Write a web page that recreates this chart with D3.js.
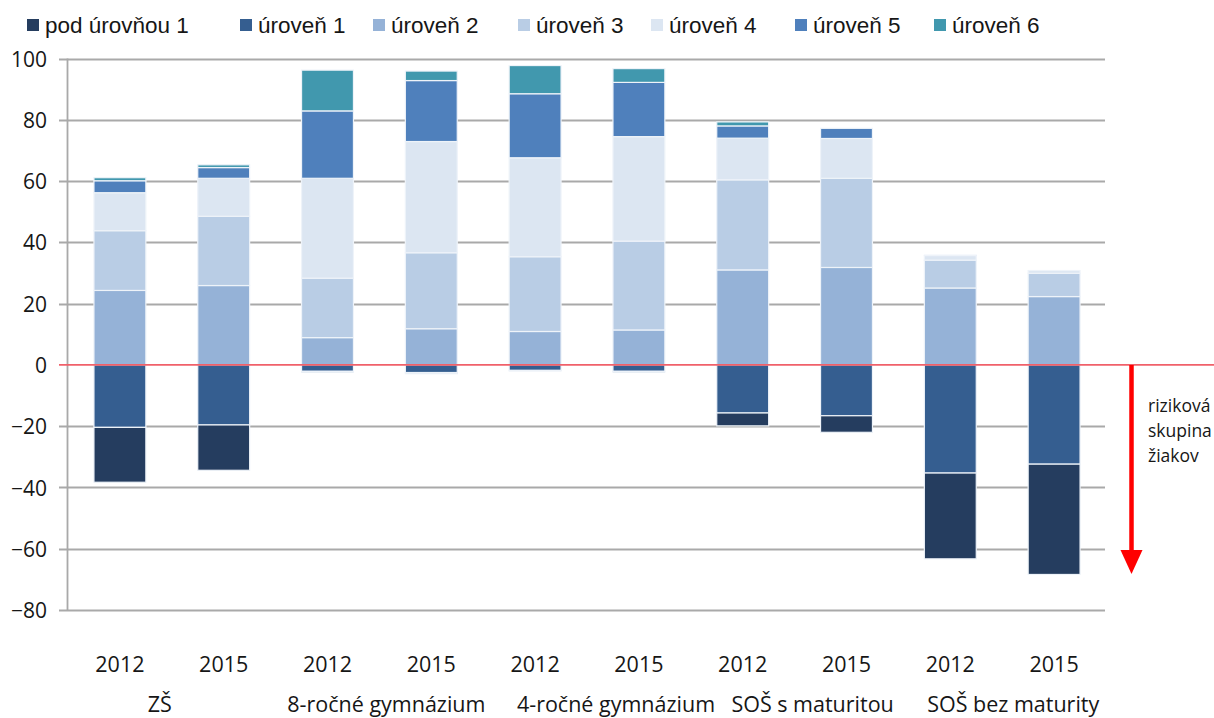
<!DOCTYPE html>
<html>
<head>
<meta charset="utf-8">
<script src="https://cdn.jsdelivr.net/npm/d3@7"></script>
<style>
  html, body { margin: 0; padding: 0; background: #ffffff; }
  svg { display: block; }
</style>
</head>
<body>
<svg id="chart" width="1214" height="718"></svg>
<script>
// Schools and test years
const categories = ["ZŠ", "8-ročné gymnázium", "4-ročné gymnázium", "SOŠ s maturitou", "SOŠ bez maturity"];
const years = ["2012", "2015"];

// Proficiency levels (legend order)
const levels = ["pod úrovňou 1", "úroveň 1", "úroveň 2", "úroveň 3", "úroveň 4", "úroveň 5", "úroveň 6"];

// Share of pupils (%) for each bar: ZŠ 2012, ZŠ 2015, 8r 2012, 8r 2015, 4r 2012, 4r 2015,
// SOŠ s 2012, SOŠ s 2015, SOŠ bez 2012, SOŠ bez 2015
const podUrovnou1 = [17.9, 14.8, 0.3, 0.4, 0.2, 0.3, 4.2, 5.4, 28.0, 36.0];
const uroven1     = [20.4, 19.6, 2.1, 2.5, 1.8, 2.1, 15.7, 16.6, 35.3, 32.4];
const uroven2     = [24.3, 25.9, 8.9, 11.8, 10.9, 11.4, 31.0, 31.8, 25.1, 22.3];
const uroven3     = [19.5, 22.6, 19.4, 24.8, 24.4, 29.0, 29.4, 29.1, 9.1, 7.6];
const uroven4     = [12.4, 12.4, 32.6, 36.3, 32.3, 34.1, 13.6, 13.0, 1.5, 0.9];
const uroven5     = [3.9, 3.5, 22.0, 19.9, 20.9, 17.7, 4.0, 3.3, 0.1, 0.0];
const uroven6     = [1.0, 0.9, 13.3, 3.1, 9.2, 4.5, 1.3, 0.0, 0.0, 0.0];

const yTicks = [-80, -60, -40, -20, 0, 20, 40, 60, 80, 100];
const riskLabel = ["riziková", "skupina", "žiakov"];

// ---- layout ----
const colors = {
  "pod úrovňou 1": "#253d5f",
  "úroveň 1": "#355e90",
  "úroveň 2": "#95b2d7",
  "úroveň 3": "#b9cde5",
  "úroveň 4": "#dce6f2",
  "úroveň 5": "#4f80bc",
  "úroveň 6": "#4198ae"
};
const seriesValues = {
  "pod úrovňou 1": podUrovnou1,
  "úroveň 1": uroven1,
  "úroveň 2": uroven2,
  "úroveň 3": uroven3,
  "úroveň 4": uroven4,
  "úroveň 5": uroven5,
  "úroveň 6": uroven6
};
const positiveOrder = ["úroveň 2", "úroveň 3", "úroveň 4", "úroveň 5", "úroveň 6"];
const negativeOrder = ["úroveň 1", "pod úrovňou 1"];

const numFont = "'Open Sans', 'DejaVu Sans', sans-serif";
const legendFont = "'Liberation Sans', Arial, sans-serif";
const textColor = "#161616";

const svg = d3.select("#chart");

const bars = [];
categories.forEach((c, ci) => years.forEach((y, yi) => bars.push({ key: c + "|" + y, cat: c, year: y, i: ci * years.length + yi })));

const x = d3.scaleBand()
  .domain(bars.map(b => b.key))
  .range([68, 1106])
  .paddingInner(0.5)
  .paddingOuter(0.25);

const y = d3.scaleLinear().domain([-80, 100]).range([610, 58.5]);

const axisX = 67.5;
const gridLeft = 59;
const gridRight = 1105;

// gridlines
svg.append("g")
  .selectAll("line")
  .data(yTicks.filter(t => t !== 0))
  .join("line")
  .attr("x1", gridLeft).attr("x2", gridRight)
  .attr("y1", d => Math.round(y(d)) + 0.5).attr("y2", d => Math.round(y(d)) + 0.5)
  .attr("stroke", "#a9a9a9").attr("stroke-width", 1.8);

// vertical axis line
svg.append("line")
  .attr("x1", axisX).attr("x2", axisX)
  .attr("y1", y(100)).attr("y2", y(-80))
  .attr("stroke", "#a9a9a9").attr("stroke-width", 1.8);

// tick labels
const yAxis = d3.axisLeft(y).tickValues(yTicks).tickSize(0).tickPadding(0).tickFormat(d3.format("d"));
const yAxisG = svg.append("g").attr("transform", "translate(47,0)").call(yAxis);
yAxisG.select(".domain").remove();
yAxisG.selectAll("text")
  .attr("font-family", numFont)
  .attr("font-size", 21)
  .attr("fill", textColor)
  .attr("dy", "0.36em");

// stacked segments
const segments = [];
bars.forEach(b => {
  let top = 0;
  positiveOrder.forEach(lv => {
    const v = seriesValues[lv][b.i];
    if (v > 0) segments.push({ bar: b, level: lv, y0: top, y1: top + v });
    top += v;
  });
  let bottom = 0;
  negativeOrder.forEach(lv => {
    const v = seriesValues[lv][b.i];
    if (v > 0) segments.push({ bar: b, level: lv, y0: bottom - v, y1: bottom });
    bottom -= v;
  });
});

svg.append("g")
  .selectAll("rect")
  .data(segments)
  .join("rect")
  .attr("x", d => x(d.bar.key))
  .attr("width", x.bandwidth())
  .attr("y", d => y(d.y1))
  .attr("height", d => y(d.y0) - y(d.y1))
  .attr("fill", d => colors[d.level])
  .attr("stroke", "#eef3f9")
  .attr("stroke-width", 1.2);

// zero line
svg.append("line")
  .attr("x1", gridLeft).attr("x2", 1214)
  .attr("y1", y(0)).attr("y2", y(0))
  .attr("stroke", "#f0606a").attr("stroke-width", 1.6);

// year labels
svg.append("g")
  .selectAll("text")
  .data(bars)
  .join("text")
  .attr("x", d => x(d.key) + x.bandwidth() / 2)
  .attr("y", 672)
  .attr("text-anchor", "middle")
  .attr("font-family", numFont)
  .attr("font-size", 21.5)
  .attr("fill", textColor)
  .text(d => d.year);

// school labels
const groupLabelShift = [-12, 7, 29, 18, 11];
svg.append("g")
  .selectAll("text")
  .data(categories)
  .join("text")
  .attr("x", (c, i) => {
    const a = x(c + "|" + years[0]);
    const b = x(c + "|" + years[1]);
    return (a + b) / 2 + x.bandwidth() / 2 + groupLabelShift[i];
  })
  .attr("y", 712)
  .attr("text-anchor", "middle")
  .attr("font-family", numFont)
  .attr("font-size", 21.5)
  .attr("fill", textColor)
  .text(d => d);

// risk-group arrow
const arrowX = 1131.5;
svg.append("line")
  .attr("x1", arrowX).attr("x2", arrowX)
  .attr("y1", y(0)).attr("y2", 552)
  .attr("stroke", "#ff0000").attr("stroke-width", 4.5);
svg.append("path")
  .attr("d", `M${arrowX - 11},550 L${arrowX + 11},550 L${arrowX},574 Z`)
  .attr("fill", "#ff0000");

svg.append("g")
  .selectAll("text")
  .data(riskLabel)
  .join("text")
  .attr("x", 1148)
  .attr("y", (d, i) => 412 + i * 25)
  .attr("font-family", numFont)
  .attr("font-size", 17.5)
  .attr("fill", textColor)
  .text(d => d);

// legend
const legendX = [27, 240, 373, 518, 651, 795, 934];
const legend = svg.append("g")
  .selectAll("g")
  .data(levels)
  .join("g")
  .attr("transform", (d, i) => `translate(${legendX[i]},0)`);
legend.append("rect")
  .attr("x", 0).attr("y", 19)
  .attr("width", 12).attr("height", 12)
  .attr("fill", d => colors[d]);
legend.append("text")
  .attr("x", 18).attr("y", 33)
  .attr("font-family", legendFont)
  .attr("font-size", 22.5)
  .attr("fill", textColor)
  .text(d => d);
</script>
</body>
</html>
